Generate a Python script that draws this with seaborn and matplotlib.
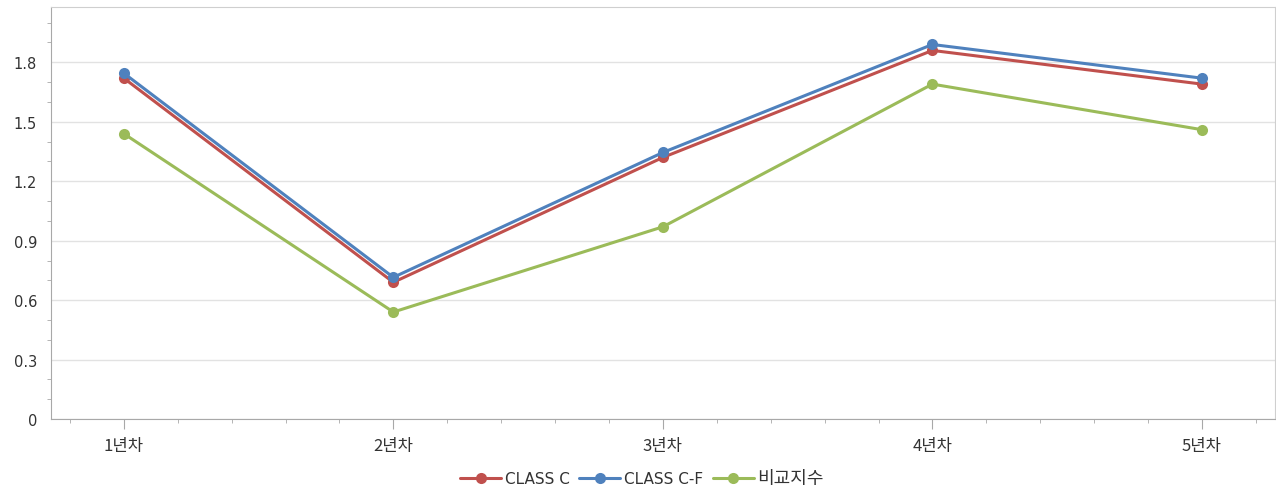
import numpy as np
import pandas as pd
import matplotlib
matplotlib.use("Agg")
import matplotlib.pyplot as plt
from matplotlib.ticker import MultipleLocator
import seaborn as sns

# data
years = ["1년차", "2년차", "3년차", "4년차", "5년차"]
class_c = [1.72, 0.69, 1.32, 1.86, 1.69]
class_cf = [1.745, 0.715, 1.345, 1.89, 1.72]
compare_idx = [1.44, 0.54, 0.97, 1.69, 1.46]
series_names = ["CLASS C", "CLASS C-F", "비교지수"]
colors = ["#C0504D", "#4F81BD", "#9BBB59"]

rows = []
for name, vals in zip(series_names, [class_c, class_cf, compare_idx]):
    for i, v in enumerate(vals):
        rows.append({"pos": i, "year": years[i], "series": name, "value": v})
df = pd.DataFrame(rows)

sns.set_style("white")
plt.rcParams["font.family"] = ["DejaVu Sans", "Noto Sans CJK KR"]

fig = plt.figure(figsize=(12.76, 4.89), dpi=100)
ax = fig.add_axes([0.040, 0.141, 0.959, 0.843])

sns.lineplot(data=df, x="pos", y="value", hue="series", hue_order=series_names,
             palette=colors, marker="o", markersize=8, markeredgewidth=0,
             linewidth=2.2, ax=ax, legend=True)

ax.set_xlim(-0.27, 4.27)
ax.set_ylim(0, 2.08)
ax.set_xticks(range(len(years)))
ax.set_xticklabels(years, family=["Noto Sans CJK KR", "DejaVu Sans"], fontsize=12)
ax.set_yticks(np.arange(0, 1.81, 0.3))
ax.set_yticklabels(["0", "0.3", "0.6", "0.9", "1.2", "1.5", "1.8"])
ax.yaxis.set_minor_locator(MultipleLocator(0.1))
ax.xaxis.set_minor_locator(MultipleLocator(0.2))
ax.set_xlabel("")
ax.set_ylabel("")

ax.grid(axis="y", which="major", color="#e2e2e2", linewidth=1)
ax.set_axisbelow(True)
for side in ["left", "bottom"]:
    ax.spines[side].set_color("#a8a8a8")
for side in ["top", "right"]:
    ax.spines[side].set_color("#cfcfcf")

ax.tick_params(axis="both", which="both", bottom=True, left=True,
               direction="out", color="#a8a8a8")
ax.tick_params(axis="x", which="major", length=7, pad=6, labelcolor="#333333")
ax.tick_params(axis="y", which="major", length=0, pad=10, labelsize=10.5,
               labelcolor="#333333")
ax.tick_params(axis="both", which="minor", length=3)

handles, labels = ax.get_legend_handles_labels()
leg = ax.legend(handles, labels, loc="upper center", bbox_to_anchor=(0.483, -0.088),
                ncol=3, frameon=False, fontsize=11, handlelength=2.7,
                handletextpad=0.25, columnspacing=0.6, labelcolor="#333333")
leg.get_texts()[2].set_fontfamily(["Noto Sans CJK KR", "DejaVu Sans"])
leg.get_texts()[2].set_fontsize(13)

fig.savefig("out.png", dpi=100)
